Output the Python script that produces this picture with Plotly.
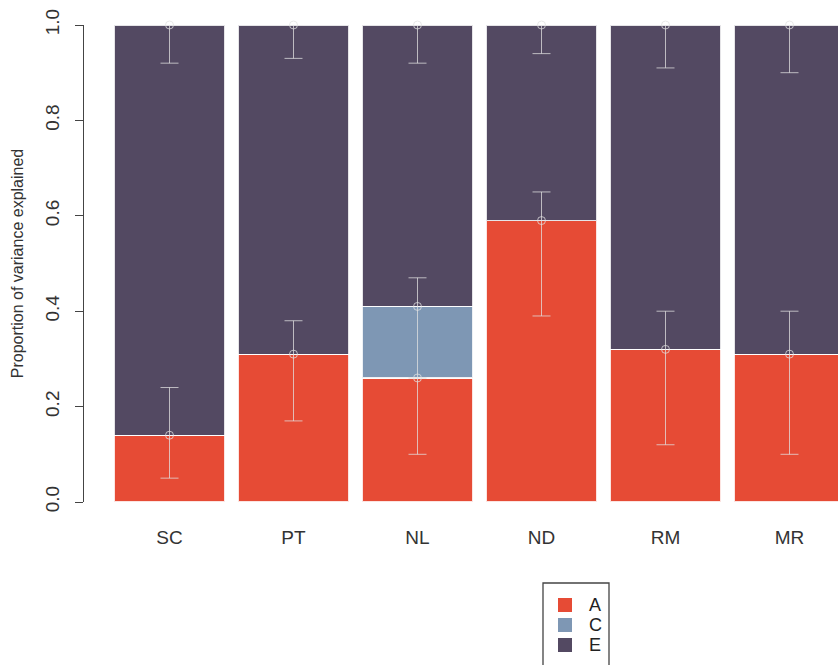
import plotly.graph_objects as go

categories = ["SC", "PT", "NL", "ND", "RM", "MR"]
A = [0.14, 0.31, 0.26, 0.59, 0.32, 0.31]
C = [0.00, 0.00, 0.15, 0.00, 0.00, 0.00]
E = [round(1 - a - c, 2) for a, c in zip(A, C)]

A_lo = [0.05, 0.17, 0.10, 0.39, 0.12, 0.10]
A_hi = [0.24, 0.38, 0.26, 0.65, 0.40, 0.40]
C_lo = [None, None, 0.26, None, None, None]
C_hi = [None, None, 0.47, None, None, None]
E_lo = [0.92, 0.93, 0.92, 0.94, 0.91, 0.90]

series_names = ["A", "C", "E"]
col_A = "#E64B35"
col_C = "#7E97B4"
col_E = "#534962"
colors = [col_A, col_C, col_E]
err_col = "rgba(225,225,225,0.75)"

W, H = 838, 665
L, R, T, B = 84, 0, 25, 163

x = list(range(len(categories)))
fig = go.Figure()
for name, vals, col in zip(series_names, [A, C, E], colors):
    fig.add_trace(go.Bar(x=x, y=vals, name=name, width=0.895, showlegend=False, hoverinfo="skip",
                         marker=dict(color=col, line=dict(color="rgba(255,255,255,0.85)", width=1.2))))

# error bars for A (at A value)
fig.add_trace(go.Scatter(x=x, y=A, mode="markers", showlegend=False, hoverinfo="skip",
                         marker=dict(symbol="circle-open", size=8, color=err_col, line=dict(width=1)),
                         error_y=dict(type="data", symmetric=False,
                                      array=[h - a for h, a in zip(A_hi, A)],
                                      arrayminus=[a - l for a, l in zip(A, A_lo)],
                                      color=err_col, thickness=1, width=9)))
# error bars for C (cumulative A+C)
cx, cy, cp, cm = [], [], [], []
for i in x:
    if C_lo[i] is not None:
        top = A[i] + C[i]
        cx.append(i); cy.append(top); cp.append(C_hi[i] - top); cm.append(top - C_lo[i])
fig.add_trace(go.Scatter(x=cx, y=cy, mode="markers", showlegend=False, hoverinfo="skip",
                         marker=dict(symbol="circle-open", size=8, color=err_col, line=dict(width=1)),
                         error_y=dict(type="data", symmetric=False, array=cp, arrayminus=cm,
                                      color=err_col, thickness=1, width=9)))
# error bars for E (at top = 1)
fig.add_trace(go.Scatter(x=x, y=[1.0] * len(x), mode="markers", showlegend=False, cliponaxis=False,
                         hoverinfo="skip",
                         marker=dict(symbol="circle-open", size=8, color=err_col, line=dict(width=1)),
                         error_y=dict(type="data", symmetric=False, array=[0] * len(x),
                                      arrayminus=[1.0 - l for l in E_lo],
                                      color=err_col, thickness=1, width=9)))

# manual legend (R-style box)
def px_x(p):
    return (p - L) / (W - L - R)

def px_y(p):
    return (H - B - p) / (H - T - B)

shapes = [dict(type="rect", xref="paper", yref="paper",
               x0=px_x(543), x1=px_x(609), y0=px_y(583), y1=px_y(672),
               line=dict(color="#444444", width=1.3), fillcolor="rgba(0,0,0,0)")]
annotations = []
for k, (nm, col) in enumerate(zip(series_names, colors)):
    yc = 605 + 20 * k
    shapes.append(dict(type="rect", xref="paper", yref="paper",
                       x0=px_x(558), x1=px_x(572), y0=px_y(yc + 7), y1=px_y(yc - 7),
                       line=dict(width=0), fillcolor=col))
    annotations.append(dict(text=nm, xref="paper", yref="paper", x=px_x(587), y=px_y(yc),
                            xanchor="left", yanchor="middle", showarrow=False,
                            font=dict(size=18, color="#222222")))

fig.update_layout(
    width=W, height=H,
    margin=dict(l=L, r=R, t=T, b=B, autoexpand=False),
    barmode="stack", bargap=0,
    plot_bgcolor="white", paper_bgcolor="white",
    font=dict(family="Liberation Sans, Arial, sans-serif", color="#333333"),
    showlegend=False, hovermode=False,
    shapes=shapes, annotations=annotations,
    xaxis=dict(range=[(84 - 169.5) / 124, (838 - 169.5) / 124], tickvals=x, ticktext=categories,
               showline=False, ticks="", showgrid=False, zeroline=False, automargin=False,
               tickfont=dict(size=19, color="#333333"), ticklabelstandoff=22),
    yaxis=dict(range=[0, 1], tickvals=[0, 0.2, 0.4, 0.6, 0.8, 1.0], tickformat=".1f",
               tickangle=-90, showline=True, linecolor="#444444", linewidth=1, automargin=False,
               ticks="outside", ticklen=8, tickcolor="#444444", showgrid=False, zeroline=False,
               tickfont=dict(size=19, color="#333333"), ticklabelstandoff=8,
               title=dict(text="Proportion of variance explained", font=dict(size=16, color="#333333"),
                          standoff=14)),
)

fig.write_html("out.html", config={"displayModeBar": False, "staticPlot": True},
               post_script="document.body.style.margin='0';document.body.style.overflow='hidden';")
